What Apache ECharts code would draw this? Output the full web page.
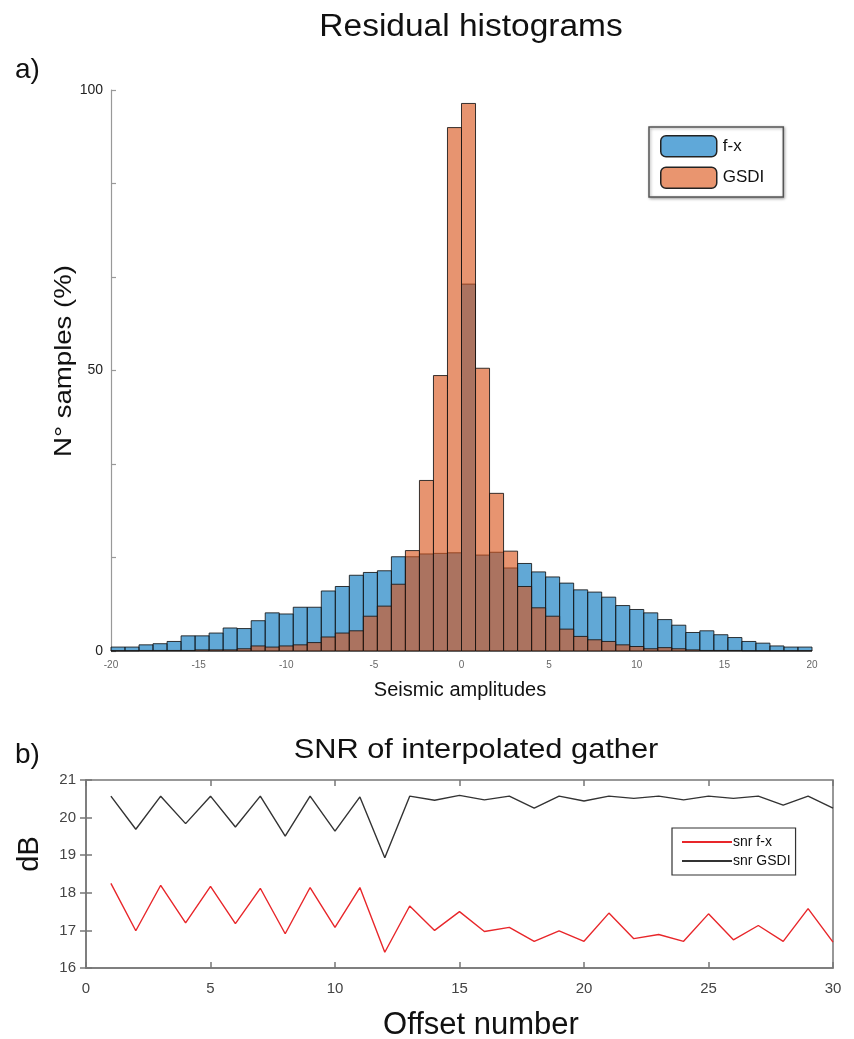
<!DOCTYPE html>
<html>
<head>
<meta charset="utf-8">
<script src="https://cdn.jsdelivr.net/npm/echarts@6/dist/echarts.min.js"></script>
<style>
html,body{margin:0;padding:0;background:#fff;}
#chart{width:854px;height:1039px;}
</style>
</head>
<body>
<div id="chart"></div>
<script>
// ---------- data ----------
const BIN_MIN = -20;
const BIN_WIDTH = 0.8;
// histogram heights (% of samples) per 0.8-wide bin from -20 to 20
const fxHist = [0.7,0.7,1.1,1.3,1.7,2.7,2.7,3.2,4.1,4.0,5.4,6.8,6.6,7.8,7.8,10.7,11.5,13.5,14.0,14.3,
  16.8,16.8,17.3,17.4,17.5,65.4,17.1,17.6,14.8,15.6,14.1,13.2,12.1,10.9,10.5,9.6,8.1,7.4,6.8,5.6,
  4.6,3.3,3.6,2.9,2.4,1.7,1.4,0.9,0.7,0.7];
const gsdiHist = [0.05,0.05,0.1,0.1,0.1,0.1,0.2,0.2,0.2,0.4,0.9,0.7,0.9,1.1,1.5,2.5,3.2,3.6,6.2,8.0,
  11.9,17.9,30.4,49.1,93.3,97.6,50.4,28.1,17.8,11.5,7.7,6.2,3.9,2.6,2.0,1.7,1.1,0.8,0.4,0.6,
  0.4,0.2,0.1,0.1,0.1,0.05,0.05,0.05,0.05,0.05];
const histYLabels = [0, 50, 100];

const offsets = [1,2,3,4,5,6,7,8,9,10,11,12,13,14,15,16,17,18,19,20,21,22,23,24,25,26,27,28,29,30];
const snrFx = [18.25,16.99,18.2,17.2,18.17,17.18,18.12,16.91,18.14,17.08,18.14,16.42,17.65,17.0,17.5,
  16.97,17.08,16.71,16.99,16.71,17.46,16.78,16.89,16.71,17.44,16.75,17.13,16.71,17.58,16.69];
const snrGsdi = [20.57,19.69,20.57,19.84,20.57,19.75,20.57,19.51,20.57,19.64,20.55,18.93,20.57,20.46,20.59,
  20.47,20.57,20.25,20.57,20.44,20.57,20.51,20.57,20.47,20.57,20.51,20.57,20.33,20.57,20.25];

// ---------- build ----------
function binData(vals){
  return vals.map((v,i)=>[BIN_MIN + i*BIN_WIDTH, BIN_MIN + (i+1)*BIN_WIDTH, v]);
}
function makeRender(fill){
  return function(params, api){
    const x0 = api.value(0), x1 = api.value(1), v = api.value(2);
    const p0 = api.coord([x0, v]);
    const p1 = api.coord([x1, 0]);
    return {
      type:'rect',
      shape:{x:p0[0], y:p0[1], width:p1[0]-p0[0], height:p1[1]-p0[1]},
      style:{fill: fill, stroke:'rgba(20,20,20,0.85)', lineWidth:1}
    };
  };
}
const FX_FILL = 'rgba(0,114,189,0.62)';
const GS_FILL = 'rgba(217,83,25,0.62)';
const FONT = 'Liberation Sans, Arial, sans-serif';

function label(text, x, y, size, opts){
  opts = opts || {};
  return {type:'text', x:x, y:y, rotation:opts.rot||0, scaleX:opts.sx||1, scaleY:opts.sy||1,
    style:{text:text, font:size+'px '+FONT, fill:'#111', align:opts.align||'center', verticalAlign:'middle'}};
}

const chart = echarts.init(document.getElementById('chart'), null, {renderer:'canvas'});
chart.setOption({
  backgroundColor:'#fff',
  animation:false,
  textStyle:{fontFamily:FONT},
  graphic:[
    label('Residual histograms', 471, 27, 31, {sx:1.08}),
    label('a)', 15, 70, 28, {align:'left'}),
    label('Seismic amplitudes', 460, 690, 20),
    label('N° samples (%)', 64, 361, 24, {rot:Math.PI/2, sx:1.15}),
    label('SNR of interpolated gather', 476, 750, 28, {sx:1.1}),
    label('b)', 15, 755, 28, {align:'left'}),
    label('dB', 30, 854, 29, {rot:Math.PI/2}),
    label('Offset number', 481, 1025, 31)
  ],
  legend:[
    {
      left:649, top:127, orient:'vertical',
      data:[
        {name:'f-x', itemStyle:{color:'#5fa8d9', borderColor:'#222', borderWidth:1.5}},
        {name:'GSDI', itemStyle:{color:'#e9956f', borderColor:'#222', borderWidth:1.5}}
      ],
      icon:'roundRect', itemWidth:56, itemHeight:21, itemGap:9,
      padding:[8,19,8,11],
      borderColor:'#555', borderWidth:1.5,
      shadowColor:'rgba(0,0,0,0.35)', shadowBlur:3, shadowOffsetX:1, shadowOffsetY:1,
      backgroundColor:'#fff',
      textStyle:{fontSize:17, color:'#111', padding:[0,0,0,1]}
    },
    {
      left:672, top:828, orient:'vertical',
      data:['snr f-x','snr GSDI'],
      icon:'rect', itemWidth:50, itemHeight:2, itemGap:5,
      padding:[7,5,7,10],
      borderColor:'#333', borderWidth:1.2,
      backgroundColor:'#fff',
      textStyle:{fontSize:14, color:'#111', padding:[0,0,0,-4]}
    }
  ],
  grid:[
    {left:111, right:42, top:90, bottom:388, containLabel:false},
    {left:86, right:21, top:780, bottom:71, containLabel:false, show:true, borderColor:'#777', borderWidth:1.5}
  ],
  xAxis:[
    {gridIndex:0, type:'value', min:-20, max:20, interval:5,
      axisLine:{show:false}, axisTick:{show:false}, splitLine:{show:false},
      axisLabel:{fontSize:10, color:'#666', margin:9}},
    {gridIndex:1, type:'value', min:0, max:30, interval:5,
      axisLine:{show:true, lineStyle:{color:'#777', width:1.5}},
      axisTick:{show:true, inside:true, length:6, lineStyle:{color:'#777', width:1.5}},
      splitLine:{show:false},
      axisLabel:{fontSize:15, color:'#444', margin:13}},
    {gridIndex:1, type:'value', position:'top', min:0, max:30, interval:5,
      axisLine:{show:false}, axisLabel:{show:false}, splitLine:{show:false},
      axisTick:{show:true, inside:true, length:6, lineStyle:{color:'#777', width:1.5}}}
  ],
  yAxis:[
    {gridIndex:0, type:'value', min:0, max:100, interval:100/6,
      axisLine:{show:true, onZero:false, lineStyle:{color:'#999', width:1.2}},
      axisTick:{show:true, inside:true, length:5, lineStyle:{color:'#999', width:1.2}},
      splitLine:{show:false},
      axisLabel:{fontSize:14, color:'#222', margin:8,
        formatter:function(v){ const r=Math.round(v); return (Math.abs(v-r)<1e-6 && histYLabels.indexOf(r)>=0) ? String(r) : ''; }}},
    {gridIndex:1, type:'value', min:16, max:21, interval:1,
      axisLine:{show:true, onZero:false, lineStyle:{color:'#777', width:1.5}},
      axisTick:{show:true, inside:true, length:6, lineStyle:{color:'#777', width:1.5}},
      splitLine:{show:false},
      axisLabel:{fontSize:15, color:'#444', margin:10}},
    {gridIndex:1, type:'value', position:'right', min:16, max:21, interval:1,
      axisLine:{show:false}, axisLabel:{show:false}, splitLine:{show:false},
      axisTick:{show:true, inside:true, length:6, lineStyle:{color:'#777', width:1.5}}}
  ],
  series:[
    {name:'f-x', type:'custom', xAxisIndex:0, yAxisIndex:0, data:binData(fxHist),
      itemStyle:{color:'#5fa8d9'}, renderItem:makeRender(FX_FILL),
      encode:{x:[0,1], y:2}, z:2},
    {name:'GSDI', type:'custom', xAxisIndex:0, yAxisIndex:0, data:binData(gsdiHist),
      itemStyle:{color:'#e9956f'}, renderItem:makeRender(GS_FILL),
      encode:{x:[0,1], y:2}, z:3},
    {name:'snr f-x', type:'line', xAxisIndex:1, yAxisIndex:1,
      data:offsets.map((o,i)=>[o, snrFx[i]]), showSymbol:false, symbol:'none',
      lineStyle:{color:'#e8262a', width:1.4}, itemStyle:{color:'#e8262a'}},
    {name:'snr GSDI', type:'line', xAxisIndex:1, yAxisIndex:1,
      data:offsets.map((o,i)=>[o, snrGsdi[i]]), showSymbol:false, symbol:'none',
      lineStyle:{color:'#333', width:1.4}, itemStyle:{color:'#333'}}
  ]
});
</script>
</body>
</html>
